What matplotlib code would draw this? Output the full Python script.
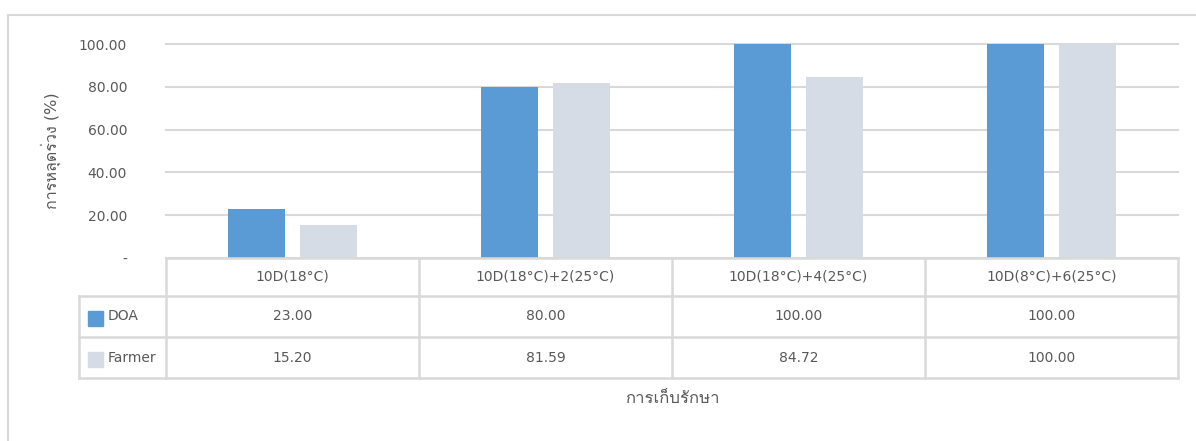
import matplotlib
matplotlib.use("Agg")
import matplotlib.pyplot as plt
from matplotlib import font_manager
from matplotlib.transforms import blended_transform_factory
from matplotlib.patches import Rectangle

# ข้อมูล
categories = ["10D(18°C)", "10D(18°C)+2(25°C)", "10D(18°C)+4(25°C)", "10D(8°C)+6(25°C)"]
series_names = ["DOA", "Farmer"]
doa = [23.00, 80.00, 100.00, 100.00]
farmer = [15.20, 81.59, 84.72, 100.00]
yticks = [0, 20, 40, 60, 80, 100]
ylabel = "การหลุดร่วง (%)"
xlabel = "การเก็บรักษา"


# หาฟอนต์ที่มีอักษรไทย
def thai_font():
    for f in font_manager.fontManager.ttflist:
        try:
            cmap = matplotlib.ft2font.FT2Font(f.fname).get_charmap()
        except Exception:
            continue
        if ord("ก") in cmap:
            return f.name
    return None


fams = ["DejaVu Sans"]
th = thai_font()
if th:
    fams.append(th)
plt.rcParams["font.family"] = fams

W, H = 1196, 441
txt = "#595959"
grid = "#D9D9D9"
colors = ["#5B9BD5", "#D6DCE5"]


def fx(px):
    return px / W


def fy(py):
    return 1 - py / H


fig = plt.figure(figsize=(W / 100, H / 100), dpi=100)
# กรอบนอก
fig.add_artist(Rectangle((fx(8), fy(460)), fx(1200), fy(15) - fy(460),
                         transform=fig.transFigure, fill=False, ec=grid, lw=1.5))

ax = fig.add_axes([fx(166), fy(258), fx(1178) - fx(166), fy(44) - fy(258)])
x = list(range(len(categories)))
w = 0.225
off = 0.142
ax.bar([i - off for i in x], doa, w, color=colors[0], zorder=3)
ax.bar([i + off for i in x], farmer, w, color=colors[1], zorder=3)
ax.set_xlim(-0.5, len(categories) - 0.5)
ax.set_ylim(0, 100)
ax.set_yticks(yticks)
ax.set_yticklabels(["-" if v == 0 else f"{v:.2f}" for v in yticks])
ax.tick_params(axis="y", length=0, pad=28, labelsize=10, labelcolor=txt)
ax.set_xticks([])
for s in ax.spines.values():
    s.set_visible(False)
ax.grid(axis="y", color=grid, lw=1.5, zorder=0)
for gl in ax.get_ygridlines():
    gl.set_clip_on(False)
ax.set_ylabel(ylabel, color=txt, fontsize=11.5, labelpad=13)

# ตารางข้อมูล
tr = blended_transform_factory(ax.transData, fig.transFigure)
rows = [258, 296, 337, 378]
n = len(categories)
line_kw = dict(color=grid, lw=1.8, clip_on=False)
# เส้นแนวนอน
fig.add_artist(plt.Line2D([fx(166), fx(1178)], [fy(rows[0])] * 2, transform=fig.transFigure, **line_kw))
for r in rows[1:]:
    fig.add_artist(plt.Line2D([fx(79), fx(1178)], [fy(r)] * 2, transform=fig.transFigure, **line_kw))
# เส้นแนวตั้ง
fig.add_artist(plt.Line2D([fx(79), fx(79)], [fy(rows[1]), fy(rows[3])], transform=fig.transFigure, **line_kw))
for b in [i - 0.5 for i in range(n + 1)]:
    fig.add_artist(plt.Line2D([b, b], [fy(rows[0]), fy(rows[3])], transform=tr, **line_kw))

for i, c in enumerate(categories):
    fig.text(i, fy((rows[0] + rows[1]) / 2), c, transform=tr, ha="center", va="center",
             fontsize=10, color=txt)
for k, vals in enumerate([doa, farmer]):
    yc = fy((rows[k + 1] + rows[k + 2]) / 2)
    for i, v in enumerate(vals):
        fig.text(i, yc, f"{v:.2f}", transform=tr, ha="center", va="center",
                 fontsize=10, color=txt)
    sq = fy(0) - fy(15)
    fig.add_artist(Rectangle((fx(88), yc - sq / 2 - 0.004), fx(15), sq,
                             transform=fig.transFigure, color=colors[k]))
    fig.text(fx(108), yc, series_names[k], ha="left", va="center",
             fontsize=10, color=txt)

fig.text(fx(672), fy(398), xlabel, ha="center", va="center", fontsize=12, color=txt)

fig.savefig("out.png", dpi=100, facecolor="white")
